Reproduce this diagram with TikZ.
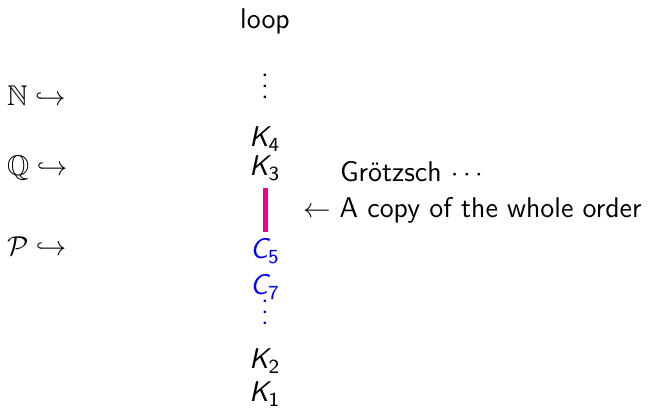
\documentclass[tikz,border=0pt]{standalone}
\usepackage{amsmath,amssymb}
\definecolor{barpink}{RGB}{236,0,140}
\definecolor{pureblue}{RGB}{0,0,255}
\newcommand{\sK}[2]{$\textsf{\itshape #1}_{\textsf{#2}}$}
\newcommand{\tightvdots}{\vbox{\baselineskip4.4pt\lineskiplimit0pt\hbox{.}\hbox{.}\hbox{.}}}
\begin{document}
\begin{tikzpicture}[x=0.4pt,y=-0.4pt,
  every node/.style={inner sep=0pt,outer sep=0pt,font=\fontsize{11.4pt}{13.7pt}\selectfont\sffamily},
  item/.style={anchor=base},
  lbl/.style={anchor=base west},
  bluetxt/.style={text=pureblue},
  pinkbar/.style={draw=barpink,line width=2pt}]
\useasboundingbox (0,0) rectangle (660,411);
\node[item] (loop) at (265,29) {loop};
\node[item] (vd1) at (265,98.5) {\tightvdots};
\node[item] (K4) at (265,147) {\sK{K}{4}};
\node[item] (K3) at (265,176) {\sK{K}{3}};
\node[lbl] (grotzsch) at (340,182) {Grötzsch $\cdots$};
\node[lbl] (copy) at (303,218) {$\leftarrow$ A copy of the whole order};
\node[item,bluetxt] (C5) at (265,259) {\sK{C}{5}};
\node[item,bluetxt] (C7) at (265,295) {\sK{C}{7}};
\node[item,bluetxt] (vd2) at (265,324.5) {\tightvdots};
\node[item] (K2) at (265,369) {\sK{K}{2}};
\node[item] (K1) at (265,402) {\sK{K}{1}};
\node[lbl] (N) at (7,106) {$\mathbb{N}\hookrightarrow$};
\node[lbl] (Q) at (7,176) {$\mathbb{Q}\hookrightarrow$};
\node[lbl] (P) at (7,256) {$\mathcal{P}\hookrightarrow$};
\coordinate (bartop) at (265,188);
\coordinate (barbot) at (265,232);
\draw[pinkbar] (bartop) -- (barbot);
\end{tikzpicture}
\end{document}
